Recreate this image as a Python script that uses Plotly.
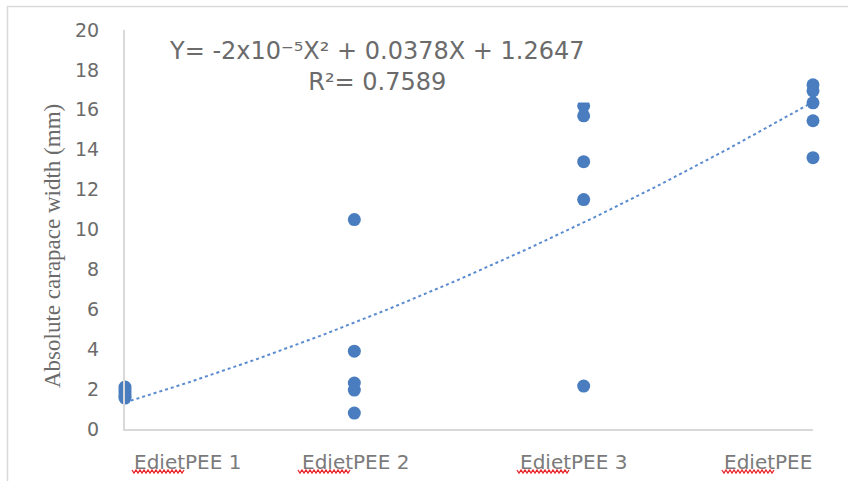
import numpy as np
import plotly.graph_objects as go

# Treatment groups (numeric position on the x axis) and their labels
group_positions = [1, 2, 3, 4]
group_labels = ["EdietPEE 1", "EdietPEE 2", "EdietPEE 3", "EdietPEE"]

# Absolute carapace width (mm) measured in each group
width_g1 = [2.1, 1.95, 1.8, 1.65, 1.55]
width_g2 = [10.5, 3.9, 2.3, 1.95, 0.8]
width_g3 = [16.2, 15.7, 13.4, 11.5, 2.15]
width_g4 = [17.25, 16.95, 16.35, 15.45, 13.6]

y_ticks = list(range(0, 21, 2))

equation_text = "Y= -2x10\u207b\u2075X\u00b2 + 0.0378X + 1.2647<br>R\u00b2= 0.7589"
y_title = "Absolute carapace width (mm)"

groups = [width_g1, width_g2, width_g3, width_g4]
xs = np.concatenate([[p] * len(g) for p, g in zip(group_positions, groups)])
ys = np.concatenate(groups)

# second-order polynomial trend through all measurements
coef = np.polyfit(xs, ys, 2)
x_fit = np.linspace(group_positions[0], group_positions[-1], 200)
y_fit = np.polyval(coef, x_fit)

BLUE = "#4a7dbf"
TEXT = "#6b6b6b"
LINE = "#d9d9d9"

fig = go.Figure()
fig.add_trace(go.Scatter(
    x=x_fit, y=y_fit, mode="lines",
    line=dict(color="#5b8bd0", width=2, dash="dot"),
    hoverinfo="skip", showlegend=False, cliponaxis=False,
))
fig.add_trace(go.Scatter(
    x=xs, y=ys, mode="markers",
    marker=dict(color=BLUE, size=13),
    showlegend=False, cliponaxis=False,
))

# plot-area geometry in pixels, used to place the decorative elements
L, R, T, B = 125, 813, 30, 429
PX_PER_X = (R - L) / (group_positions[-1] - group_positions[0])


def px_to_x(px):
    return group_positions[0] + (px - L) / PX_PER_X


def px_to_py(py):
    return (B - py) / (B - T)


# category labels, placed under the axis
label_centers_px = [187.5, 355.5, 573.5, 767.5]
label_widths_px = [111, 115, 113, 91]
squiggle_len_px = 53
label_y_px = 462

annotations = []
shapes = []
for lab, cx, w in zip(group_labels, label_centers_px, label_widths_px):
    annotations.append(dict(
        x=px_to_x(cx), y=px_to_py(label_y_px), xref="x", yref="paper",
        text=lab, showarrow=False, xanchor="center", yanchor="middle",
        font=dict(family="DejaVu Sans", size=20, color="#7a7a7a"),
    ))
    # red wavy underline beneath "Ediet"
    x0 = cx - w / 2
    pts = []
    step = 2.0
    n = int(squiggle_len_px / step)
    for i in range(n + 1):
        px = x0 + i * step
        py = 471.5 + (1.5 if i % 2 else -1.5)
        pts.append((px_to_x(px), px_to_py(py)))
    path = "M " + " L ".join(f"{a:.5f},{b:.5f}" for a, b in pts)
    shapes.append(dict(type="path", path=path, xref="x", yref="paper",
                       line=dict(color="#e8262a", width=1.3)))

# trend-line equation with a white box
annotations.append(dict(
    x=(377 - L) / (R - L), y=px_to_py(66), xref="paper", yref="paper",
    text=equation_text, showarrow=False, align="center",
    xanchor="center", yanchor="middle", bgcolor="white", borderpad=6,
    font=dict(family="DejaVu Sans", size=24, color=TEXT),
))

# y-axis title
annotations.append(dict(
    x=(52 - L) / (R - L), y=px_to_py(246), xref="paper", yref="paper",
    text=y_title, showarrow=False, textangle=-90,
    xanchor="center", yanchor="middle",
    font=dict(family="Liberation Serif", size=23, color=TEXT),
))

# thin frame along the left and top edges of the page
shapes.append(dict(
    type="path", xref="paper", yref="paper",
    path=(f"M {(7.5 - L) / (R - L):.5f},{px_to_py(500):.5f} "
          f"L {(7.5 - L) / (R - L):.5f},{px_to_py(6.5):.5f} "
          f"L {(860 - L) / (R - L):.5f},{px_to_py(6.5):.5f}"),
    line=dict(color=LINE, width=1.5),
))

fig.update_layout(
    width=848, height=481,
    margin=dict(l=L, r=848 - R, t=T, b=481 - B),
    paper_bgcolor="white", plot_bgcolor="white",
    showlegend=False,
    annotations=annotations, shapes=shapes,
    xaxis=dict(range=[group_positions[0], group_positions[-1]],
               showgrid=False, zeroline=False, showticklabels=False,
               showline=True, linecolor=LINE, linewidth=2, ticks=""),
    yaxis=dict(range=[0, 20], tickvals=y_ticks, showgrid=False, zeroline=False,
               showline=True, linecolor=LINE, linewidth=2, ticks="",
               ticklabelstandoff=20,
               tickfont=dict(family="DejaVu Sans", size=19, color=TEXT)),
)

fig.write_html("out.html")
